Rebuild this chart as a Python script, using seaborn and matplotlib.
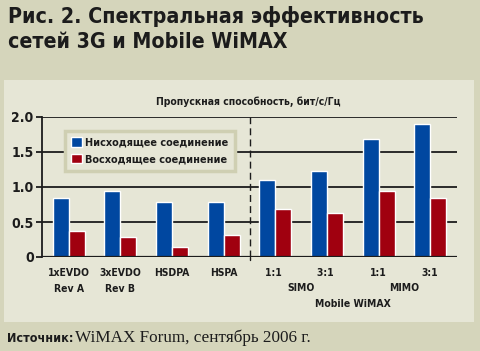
import pandas as pd
import seaborn as sns
import matplotlib.pyplot as plt
from matplotlib.patches import Rectangle
from matplotlib.transforms import blended_transform_factory

# Data
categories = ["1xEVDO\nRev A", "3xEVDO\nRev B", "HSDPA", "HSPA",
              "1:1 ", "3:1 ", "1:1", "3:1"]
downlink = [0.84, 0.94, 0.79, 0.79, 1.10, 1.23, 1.69, 1.90]
uplink = [0.37, 0.29, 0.14, 0.31, 0.69, 0.63, 0.94, 0.84]
series_names = ["Нисходящее соединение", "Восходящее соединение"]
y_ticks = [0, 0.5, 1.0, 1.5, 2.0]
y_tick_labels = ["0", "0.5", "1.0", "1.5", "2.0"]

df = pd.DataFrame({
    "cat": categories * 2,
    "series": [series_names[0]] * len(categories) + [series_names[1]] * len(categories),
    "value": downlink + uplink,
})

outer_bg = "#d5d5bb"
panel_bg = "#e6e6d6"
blue = "#0047a0"
red = "#a0000f"
ink = "#1c1c1c"

sns.set_theme(style="white")
plt.rcParams["font.family"] = ["DejaVu Sans"]
plt.rcParams["font.stretch"] = "condensed"
plt.rcParams["font.weight"] = "bold"

fig = plt.figure(figsize=(4.8, 3.51), dpi=100, facecolor=outer_bg)
W, H = 480, 351
fig.patches.append(Rectangle((4 / W, 1 - 322 / H), 470 / W, 242 / H,
                             transform=fig.transFigure, facecolor=panel_bg,
                             edgecolor="none", zorder=-5))

ax = fig.add_axes([42 / W, 1 - 257 / H, 415 / W, 140 / H])
ax.set_facecolor("none")

sns.barplot(data=df, x="cat", y="value", hue="series", order=categories,
            hue_order=series_names, palette=[blue, red], width=0.62,
            saturation=1, ax=ax, zorder=3)

ax.set_ylim(0, 2.0)
ax.set_xlim(-0.52, 7.52)
ax.set_yticks(y_ticks)
ax.set_yticklabels(y_tick_labels, fontsize=10, color=ink)
for y in y_ticks[1:]:
    ax.axhline(y, color=ink, lw=1.3, zorder=1)
ax.axhline(0, color=ink, lw=1.6, zorder=4)
ax.axvline(3.5, ymin=0, ymax=1, color=ink, lw=1, ls=(0, (5, 3)), zorder=2)
ax.plot([3.5, 3.5], [0, -0.045], color=ink, lw=1, clip_on=False)

for s in ["top", "right", "bottom"]:
    ax.spines[s].set_visible(False)
ax.spines["left"].set_color(ink)
ax.spines["left"].set_linewidth(1.3)
ax.tick_params(axis="y", length=4, width=1.3, color=ink, pad=2, left=True)
ax.tick_params(axis="x", length=0, pad=8, labelsize=7.5, labelcolor=ink)
ax.set_xticks(range(len(categories)))
ax.set_xticklabels(categories, linespacing=1.7)
ax.set_xlabel("")
ax.set_ylabel("")

tr = blended_transform_factory(ax.transData, ax.transAxes)
ax.text((4 + 5) / 2, -0.221, "SIMO", transform=tr, ha="center", va="center",
        fontsize=7.5, color=ink)
ax.text((6 + 7) / 2, -0.221, "MIMO", transform=tr, ha="center", va="center",
        fontsize=7.5, color=ink)
ax.text((4 + 7) / 2, -0.336, "Mobile WiMAX", transform=tr, ha="center",
        va="center", fontsize=7.5, color=ink)

leg = ax.legend(loc="upper left", bbox_to_anchor=(0.055, 0.9), borderaxespad=0,
                frameon=True, fancybox=False, fontsize=7.8, handlelength=0.95,
                handleheight=0.95, handletextpad=0.3, labelspacing=0.55,
                borderpad=0.6)
leg.get_frame().set_facecolor(panel_bg)
leg.get_frame().set_edgecolor("#cfcfb2")
leg.get_frame().set_linewidth(2.5)
leg.get_frame().set_alpha(1)
for t in leg.get_texts():
    t.set_color(ink)

fig.text(248 / W, 1 - 102 / H, "Пропускная способность, бит/с/Гц",
         ha="center", va="center", fontsize=7.5, color=ink)

fig.text(8 / W, 1 - 6 / H, "Рис. 2. Спектральная эффективность\nсетей 3G и Mobile WiMAX",
         ha="left", va="top", fontsize=15.3, color=ink, linespacing=1.3)

fig.text(7 / W, 1 - 338 / H, "Источник:", ha="left", va="center",
         fontsize=9, color=ink)
fig.text(75 / W, 1 - 338 / H, "WiMAX Forum, сентябрь 2006 г.", ha="left",
         va="center", fontsize=12.3, color=ink, family=["Liberation Serif", "DejaVu Serif"],
         fontweight="normal", fontstretch="normal")

fig.savefig("out.png", dpi=100, facecolor=outer_bg)
